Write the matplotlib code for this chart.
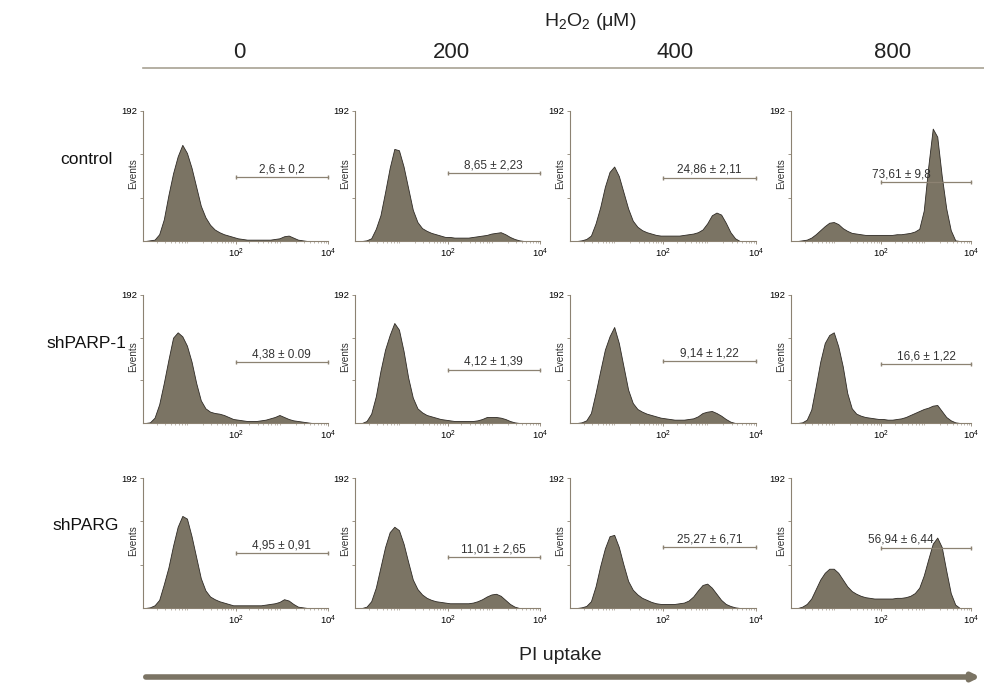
import numpy as np
import matplotlib.pyplot as plt
from matplotlib.lines import Line2D
from matplotlib.patches import FancyArrowPatch
from matplotlib.ticker import LogLocator, NullFormatter

plt.rcParams['font.family'] = ['Liberation Sans', 'DejaVu Sans']
plt.rcParams['mathtext.default'] = 'regular'

doses = ['0', '200', '400', '800']
cell_lines = ['control', 'shPARP-1', 'shPARG']

# bin centres in decades of PI fluorescence (10^0 .. 10^4), counts
decades = np.arange(0.05, 4.0, 0.1)

ctrl_0 = [0, 1, 2, 10, 32, 68, 100, 125, 142, 130, 108, 80, 52, 35, 24, 17, 13, 10, 8, 6,
          4, 3, 2, 2, 2, 2, 2, 2, 3, 4, 7, 8, 5, 2, 1, 0, 0, 0, 0, 0]
ctrl_200 = [0, 0, 1, 4, 18, 38, 72, 108, 136, 134, 110, 78, 46, 28, 19, 15, 12, 10, 8, 6,
            6, 5, 5, 5, 5, 6, 7, 8, 9, 11, 12, 13, 10, 6, 3, 1, 0, 0, 0, 0]
ctrl_400 = [0, 0, 1, 3, 8, 26, 50, 80, 102, 110, 96, 72, 48, 30, 21, 16, 13, 11, 9, 8,
            8, 8, 8, 8, 9, 10, 11, 13, 17, 26, 38, 42, 39, 27, 13, 4, 0, 0, 0, 0]
ctrl_800 = [0, 0, 1, 2, 5, 10, 16, 22, 27, 28, 25, 19, 15, 12, 11, 10, 9, 9, 9, 9,
            9, 9, 9, 10, 10, 11, 12, 14, 18, 45, 110, 166, 154, 96, 48, 16, 1, 0, 0, 0]

parp_0 = [0, 1, 8, 28, 60, 95, 128, 136, 130, 116, 92, 60, 34, 22, 17, 15, 14, 12, 9, 6,
          5, 4, 3, 3, 3, 4, 5, 7, 9, 12, 9, 6, 4, 3, 2, 1, 0, 0, 0, 0]
parp_200 = [0, 0, 3, 14, 40, 78, 110, 132, 150, 140, 108, 68, 38, 22, 16, 12, 10, 8, 6, 5,
            4, 3, 3, 3, 3, 3, 4, 6, 9, 9, 9, 8, 6, 3, 1, 0, 0, 0, 0, 0]
parp_400 = [0, 0, 1, 4, 15, 45, 78, 110, 130, 144, 120, 85, 50, 30, 21, 17, 14, 12, 10, 8,
            7, 6, 5, 5, 5, 6, 7, 10, 15, 17, 18, 15, 11, 6, 2, 0, 0, 0, 0, 0]
parp_800 = [0, 0, 1, 5, 20, 55, 92, 120, 132, 136, 115, 85, 45, 22, 14, 11, 9, 8, 7, 6,
            6, 5, 5, 6, 7, 9, 12, 15, 18, 21, 23, 26, 27, 18, 9, 4, 1, 0, 0, 0]

parg_0 = [0, 1, 4, 12, 35, 60, 92, 120, 136, 132, 106, 75, 44, 26, 17, 13, 10, 8, 6, 4,
          4, 4, 4, 4, 4, 4, 5, 6, 7, 9, 13, 11, 6, 2, 1, 0, 0, 0, 0, 0]
parg_200 = [0, 0, 2, 10, 30, 60, 90, 112, 120, 115, 95, 68, 42, 28, 20, 15, 12, 10, 9, 8,
            7, 7, 7, 7, 7, 8, 10, 13, 17, 20, 21, 18, 12, 6, 2, 0, 0, 0, 0, 0]
parg_400 = [0, 0, 1, 3, 10, 32, 62, 88, 106, 108, 90, 64, 40, 27, 20, 15, 12, 9, 7, 6,
            6, 6, 6, 7, 8, 11, 17, 26, 34, 36, 30, 21, 12, 6, 3, 1, 0, 0, 0, 0]
parg_800 = [0, 0, 2, 6, 14, 28, 42, 52, 58, 58, 52, 42, 32, 25, 21, 18, 16, 15, 14, 14,
            14, 14, 14, 15, 15, 16, 18, 22, 30, 48, 72, 95, 104, 90, 55, 22, 5, 0, 0, 0]

counts = [[ctrl_0, ctrl_200, ctrl_400, ctrl_800],
          [parp_0, parp_200, parp_400, parp_800],
          [parg_0, parg_200, parg_400, parg_800]]

# % PI positive cells (gate 10^2 - 10^4)
gate_labels = [['2,6 ± 0,2', '8,65 ± 2,23', '24,86 ± 2,11', '73,61 ± 9,8'],
               ['4,38 ± 0.09', '4,12 ± 1,39', '9,14 ± 1,22', '16,6 ± 1,22'],
               ['4,95 ± 0,91', '11,01 ± 2,65', '25,27 ± 6,71', '56,94 ± 6,44']]
gate_heights = [[94, 100, 93, 87],
                [91, 80, 93, 88],
                [81, 75, 90, 89]]

fill_col = '#7b7464'
edge_col = '#2e2a25'
axis_col = '#8c8272'

W, H = 984, 683
fig = plt.figure(figsize=(9.84, 6.83), dpi=100)

col_left = [143, 355, 570, 791]
col_w = [185, 185, 186, 180]
row_base = [241, 423, 608]
row_top = [111, 295, 478]

for r in range(3):
    for c in range(4):
        ax = fig.add_axes([col_left[c] / W, 1 - row_base[r] / H,
                           col_w[c] / W, (row_base[r] - row_top[r]) / H])
        ax.fill_between(10 ** decades, counts[r][c], color=fill_col,
                        edgecolor=edge_col, linewidth=0.6)
        ax.set_xscale('log')
        ax.set_xlim(1, 1e4)
        ax.set_ylim(0, 192)
        for s in ['top', 'right']:
            ax.spines[s].set_visible(False)
        for s in ['left', 'bottom']:
            ax.spines[s].set_color(axis_col)
            ax.spines[s].set_linewidth(0.8)
        ax.set_yticks([64, 128, 192])
        ax.set_yticklabels(['', '', '192'])
        ax.set_xticks([1e2, 1e4])
        ax.set_xticklabels(['$10^2$', '$10^4$'])
        ax.xaxis.set_minor_locator(LogLocator(subs=np.arange(2, 10)))
        ax.xaxis.set_minor_formatter(NullFormatter())
        ax.tick_params(labelsize=6.8, length=2.5, width=0.6, color=axis_col, pad=1.5)
        ax.tick_params(which='minor', length=1.2, width=0.4, color=axis_col)
        ax.text(-0.055, 0.52, 'Events', rotation=90, transform=ax.transAxes,
                ha='center', va='center', fontsize=7.2, color='#333333')

        h = gate_heights[r][c]
        ax.plot([1e2, 1e4], [h, h], color=axis_col, lw=0.9, marker='|', ms=3,
                clip_on=False)
        if c == 3 and r != 1:
            lx = 10 ** 2.45
        else:
            lx = 1e3
        ax.text(lx, h + 3, gate_labels[r][c], ha='center', va='bottom',
                fontsize=8.5, color='#333333')

# header
fig.text(590 / W, 1 - 22 / H, 'H$_2$O$_2$ (μM)', ha='center', va='center',
         fontsize=14, color='#222222')
for c, d in enumerate(doses):
    shift = 4 if c < 2 else 12
    fig.text((col_left[c] + col_w[c] / 2 + shift) / W, 1 - 52 / H, d, ha='center',
             va='center', fontsize=16, color='#222222')
fig.add_artist(Line2D([143 / W, 1.0], [1 - 68 / H] * 2, color='#a8a294', lw=1.2))

for r, name in enumerate(cell_lines):
    fig.text(86 / W, 1 - (row_top[r] + 48) / H, name, ha='center',
             va='center', fontsize=12.5, color='#111111')

fig.text(560 / W, 1 - 655 / H, 'PI uptake', ha='center', va='center',
         fontsize=14, color='#222222')
fig.add_artist(FancyArrowPatch((143 / W, 1 - 677 / H), (0.999, 1 - 677 / H),
                               transform=fig.transFigure, arrowstyle='-|>',
                               mutation_scale=10, lw=4, color='#7b7464'))

fig.savefig('out.png', dpi=100)
